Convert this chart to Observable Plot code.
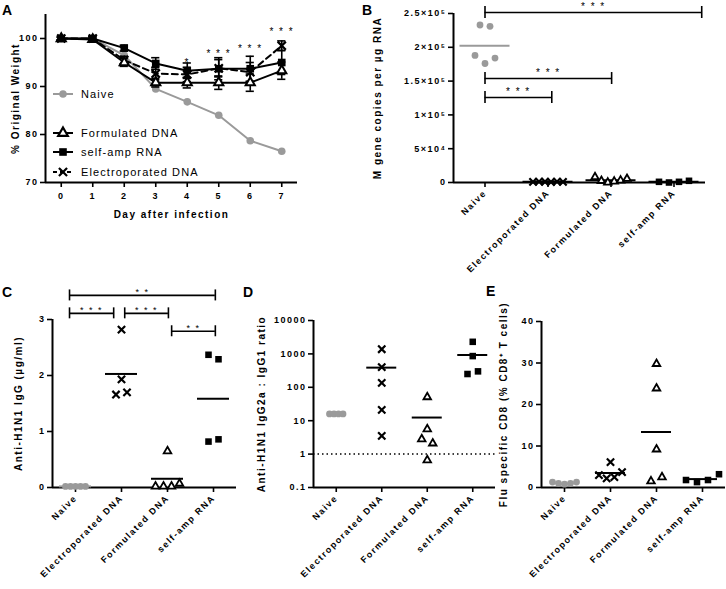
<!DOCTYPE html>
<html><head><meta charset="utf-8">
<script src="https://cdn.jsdelivr.net/npm/d3@7"></script>
<script src="https://cdn.jsdelivr.net/npm/@observablehq/plot@0.6"></script>
<style>
body{margin:0;background:#fff;}
#fig{position:relative;width:726px;height:589px;overflow:hidden;background:#fff;}
#fig > svg{position:absolute;left:0;top:0;}
</style></head><body><div id="fig"></div>
<script>
// ---------- DATA ----------
const groups = ["Naive", "Electroporated DNA", "Formulated DNA", "self-amp RNA"];

// Panel A: weight curves
const days = [0, 1, 2, 3, 4, 5, 6, 7];
const weightNaive = [100, 100, 96.5, 89.5, 86.8, 84, 78.7, 76.5];
const weightFormulated = [100, 99.8, 95, 90.8, 90.8, 90.8, 90.8, 93.3];
const weightSelfAmp = [100, 100, 98, 94.8, 93.3, 93.7, 93.7, 95];
const weightElectro = [100, 100, 95.5, 92.7, 92.5, 93.8, 93, 98.5];
const errFormulated = [0.3, 0.5, 0.8, 0.9, 1.1, 1.4, 1.8, 1.8];
const errSelfAmp = [0.3, 0.4, 0.6, 1.2, 1.6, 2.3, 2.6, 2.5];
const errElectro = [0.3, 0.4, 0.8, 1.3, 1.5, 1.8, 2.0, 1.0];
const starDaysA = [4, 5, 6, 7];
const starYA = [95.0, 96.9, 97.9, 101.5];
const starLabelsA = ["*", "***", "***", "***"];

// Panel B: M gene copies per µg RNA
const bNaive = [233000, 231000, 188000, 176000, 184000];
const bElectro = [900, 1300, 1100, 800, 1200, 1000];
const bFormulated = [8000, 2500, 0, 1500, 3000, 5500];
const bSelfAmp = [1000, 0, 1000, 2500];
const bTicks = [0, 50000, 100000, 150000, 200000, 250000];
const bTickLabels = ["0", "5×10⁴", "1×10⁵", "1.5×10⁵", "2×10⁵", "2.5×10⁵"];
const bBracketFrom = [0, 0, 0];
const bBracketTo = [3.44, 2.01, 1.06];
const bBracketY = [251500, 153800, 125700];
const bBracketLabel = ["***", "***", "***"];

// Panel C: Anti-H1N1 IgG (µg/ml)
const cNaive = [0.02, 0.02, 0.02, 0.02, 0.02];
const cElectro = [2.82, 1.93, 1.66, 1.70];
const cFormulated = [0.65, 0.02, 0.02, 0.02, 0.07];
const cSelfAmp = [2.37, 2.29, 0.82, 0.86];
const cTicks = [0, 1, 2, 3];
const cBracketFrom = [-0.13, -0.13, 1.07, 2.09];
const cBracketTo = [3.04, 0.83, 2.02, 3.04];
const cBracketY = [3.43, 3.11, 3.11, 2.79];
const cBracketLabel = ["**", "***", "***", "**"];

// Panel D: IgG2a : IgG1 ratio
const dNaive = [16, 16, 16, 16];
const dElectro = [1380, 400, 135, 21, 3.5];
const dFormulated = [51, 5.6, 2.8, 2.1, 0.66];
const dSelfAmp = [2300, 860, 250, 300];
const dTicks = [0.1, 1, 10, 100, 1000, 10000];
const dTickLabels = ["0.1", "1", "10", "100", "1000", "10000"];
const dReference = [1];

// Panel E: Flu specific CD8
const eNaive = [1.3, 1.0, 0.8, 1.0, 1.3];
const eElectro = [6.1, 3.0, 2.2, 2.5, 3.7];
const eFormulated = [29.8, 23.9, 9.2, 1.5, 2.5];
const eSelfAmp = [1.8, 1.3, 1.8, 3.2];
const eTicks = [0, 10, 20, 30, 40];

// ---------- STYLE ----------
const W = 726, H = 589;
const FONT = '"Liberation Sans", Arial, Helvetica, sans-serif';
const GRAY = "#9a9a9a";
const svgStyle = `font-family:${FONT};font-size:9px;font-weight:bold;letter-spacing:1.5px;background:transparent;overflow:visible;max-width:none;`;
const fig = document.getElementById("fig");
const spaced = s => s.split("").join(" ");

const groupStyle = [
  {symbol: "circle", fill: GRAY, stroke: "none", r: 3.4},
  {symbol: "times", fill: "none", stroke: "black", strokeWidth: 2.2, r: 3.4},
  {symbol: "triangle", fill: "white", stroke: "black", strokeWidth: 1.8, r: 2.8},
  {symbol: "square", fill: "black", stroke: "none", r: 3.7}
];

// ---------- PANEL A ----------
{
  const ml = 45, mr = W - 297, mt = 14, mb = H - 182;
  const mk = (w, e) => days.map((d, i) => ({day: d, w: w[i], e: e ? e[i] : 0}));
  const naive = mk(weightNaive), form = mk(weightFormulated, errFormulated),
        self = mk(weightSelfAmp, errSelfAmp), elec = mk(weightElectro, errElectro);
  const errMarks = rows => [
    Plot.ruleX(rows, {x: "day", y1: d => d.w - d.e, y2: d => d.w + d.e, strokeWidth: 1.6}),
    Plot.ruleY(rows, {y: d => d.w + d.e, x1: d => d.day - 0.13, x2: d => d.day + 0.13, strokeWidth: 1.6}),
    Plot.ruleY(rows, {y: d => d.w - d.e, x1: d => d.day - 0.13, x2: d => d.day + 0.13, strokeWidth: 1.6})
  ];
  const stars = starDaysA.map((d, i) => ({day: d, y: starYA[i], label: starLabelsA[i]}));
  const p = Plot.plot({
    width: W, height: H, marginLeft: ml, marginRight: mr, marginTop: mt, marginBottom: mb,
    x: {domain: [-0.5, 7.5]}, y: {domain: [70, 105]},
    style: svgStyle,
    marks: [
      Plot.axisY({ticks: [70, 80, 90, 100], tickSize: 5, tickPadding: 2, strokeWidth: 1.6, label: null}),
      Plot.axisX({ticks: days, tickSize: 5, tickPadding: 5, strokeWidth: 1.6, label: null}),
      Plot.ruleX([-0.5], {strokeWidth: 2}),
      Plot.ruleY([70], {strokeWidth: 2}),
      Plot.text(["% Original Weight"], {frameAnchor: "left", textAnchor: "middle", dx: -30, rotate: -90, fontSize: 10, fontWeight: "bold"}),
      Plot.text(["Day after infection"], {frameAnchor: "bottom", textAnchor: "middle", dy: 35, fontSize: 10, fontWeight: "bold"}),
      Plot.line(naive, {x: "day", y: "w", stroke: GRAY, strokeWidth: 2}),
      Plot.dot(naive, {x: "day", y: "w", fill: GRAY, r: 3.8}),
      ...errMarks(elec),
      Plot.line(elec, {x: "day", y: "w", stroke: "black", strokeWidth: 2, strokeDasharray: "6,4"}),
      ...errMarks(form),
      Plot.line(form, {x: "day", y: "w", stroke: "black", strokeWidth: 2}),
      ...errMarks(self),
      Plot.line(self, {x: "day", y: "w", stroke: "black", strokeWidth: 2}),
      Plot.dot(elec, {x: "day", y: "w", symbol: "times", stroke: "black", strokeWidth: 2.2, r: 3.8}),
      Plot.dot(form, {x: "day", y: "w", symbol: "triangle", fill: "white", stroke: "black", strokeWidth: 2, r: 3.4}),
      Plot.dot(self, {x: "day", y: "w", symbol: "square", fill: "black", r: 4.3}),
      Plot.text(stars, {x: "day", y: "y", text: d => spaced(d.label), fontSize: 10, fontWeight: "normal", fill: "black"})
    ]
  });
  fig.appendChild(p);
}

// ---------- scatter panel helper ----------
function dodge(values, yPix, spread, thresh = 7) {
  const idx = values.map((v, i) => i).sort((a, b) => yPix(values[a]) - yPix(values[b]));
  const rows = []; let cur = [idx[0]];
  for (let k = 1; k < idx.length; k++) {
    if (Math.abs(yPix(values[idx[k]]) - yPix(values[idx[k - 1]])) < thresh) cur.push(idx[k]);
    else { rows.push(cur); cur = [idx[k]]; }
  }
  rows.push(cur);
  const off = new Array(values.length).fill(0);
  rows.forEach(r => { r.sort((a, b) => a - b); r.forEach((i, j) => off[i] = (j - (r.length - 1) / 2) * spread); });
  return off;
}

function scatterPanel(o) {
  const {series, yType = "linear", yDomain, yTicks, yTickFormat, ml, mr, mt, mb, spread,
         meanHalf = 15, meanSkip = [], brackets = [], capPx = 6, starDy = -7, starSize = 10,
         yTitle, titleDx, extra = []} = o;
  const top = mt, bottom = H - mb;
  const yPix = (yType === "log" ? d3.scaleLog() : d3.scaleLinear()).domain(yDomain).range([bottom, top]);
  const step = (W - ml - mr) / 4;
  const marks = [
    Plot.axisY({ticks: yTicks, tickFormat: yTickFormat, tickSize: 5, tickPadding: 2, strokeWidth: 1.6, label: null}),
    Plot.axisX({ticks: [0, 1, 2, 3], tickFormat: i => groups[i], tickRotate: -45, tickSize: 5, tickPadding: 4, strokeWidth: 1.6, label: null}),
    Plot.ruleX([-0.5], {strokeWidth: 2}),
    Plot.ruleY([yDomain[0]], {strokeWidth: 2}),
    Plot.text([yTitle], {frameAnchor: "left", textAnchor: "middle", dx: titleDx, rotate: -90, fontSize: 10, fontWeight: "bold"}),
    ...extra
  ];
  // brackets
  if (brackets.length) {
    const caps = brackets.flatMap(b => [b.x1, b.x2].map(x => ({x, y1: yPix.invert(yPix(b.y) + capPx), y2: yPix.invert(yPix(b.y) - capPx)})));
    marks.push(Plot.ruleY(brackets, {y: "y", x1: "x1", x2: "x2", strokeWidth: 1.6}));
    marks.push(Plot.ruleX(caps, {x: "x", y1: "y1", y2: "y2", strokeWidth: 1.6}));
    marks.push(Plot.text(brackets, {x: d => (d.x1 + d.x2) / 2, y: "y", text: d => spaced(d.label), dy: starDy, fontSize: starSize, fontWeight: "normal", fill: "black"}));
  }
  // mean lines
  series.forEach((vals, gi) => {
    if (meanSkip.includes(gi)) return;
    const m = d3.mean(vals);
    marks.push(Plot.ruleY([{gi, m}], {y: "m", x1: d => d.gi - meanHalf / step, x2: d => d.gi + meanHalf / step,
      stroke: gi === 0 ? GRAY : "black", strokeWidth: 2}));
  });
  // points
  series.forEach((vals, gi) => {
    const off = dodge(vals, yPix, spread[gi]);
    const rows = vals.map((v, i) => ({x: gi + off[i] / step, y: v}));
    const s = groupStyle[gi];
    marks.push(Plot.dot(rows, {x: "x", y: "y", symbol: s.symbol, fill: s.fill, stroke: s.stroke, strokeWidth: s.strokeWidth, r: s.r}));
  });
  const p = Plot.plot({
    width: W, height: H, marginLeft: ml, marginRight: mr, marginTop: mt, marginBottom: mb,
    x: {domain: [-0.5, 3.5]},
    y: {type: yType, domain: yDomain},
    style: svgStyle,
    marks
  });
  fig.appendChild(p);
}

const mkBrackets = (from, to, ys, labels) => from.map((f, i) => ({x1: f, x2: to[i], y: ys[i], label: labels[i]}));

// ---------- PANEL B ----------
scatterPanel({
  series: [bNaive, bElectro, bFormulated, bSelfAmp],
  yDomain: [0, 250000], yTicks: bTicks, yTickFormat: d => bTickLabels[bTicks.indexOf(d)],
  ml: 453, mr: W - 705, mt: 13, mb: H - 182,
  spread: [10, 6, 6.4, 10], meanHalf: 25,
  brackets: mkBrackets(bBracketFrom, bBracketTo, bBracketY, bBracketLabel), capPx: 6, starDy: -6, starSize: 10,
  yTitle: "M gene copies per µg RNA", titleDx: -76
});

// ---------- PANEL C ----------
scatterPanel({
  series: [cNaive, cElectro, cFormulated, cSelfAmp],
  yDomain: [0, 3], yTicks: cTicks, yTickFormat: d => String(d),
  ml: 52, mr: W - 236, mt: 319, mb: H - 487,
  spread: [5, 11, 8, 10], meanHalf: 16,
  brackets: mkBrackets(cBracketFrom, cBracketTo, cBracketY, cBracketLabel), capPx: 5.5, starDy: -3, starSize: 9,
  yTitle: "Anti-H1N1 IgG (µg/ml)", titleDx: -34
});

// ---------- PANEL D ----------
scatterPanel({
  series: [dNaive, dElectro, dFormulated, dSelfAmp],
  yType: "log", yDomain: [0.1, 10000], yTicks: dTicks, yTickFormat: d => dTickLabels[dTicks.indexOf(d)],
  ml: 313, mr: W - 495, mt: 320, mb: H - 487,
  spread: [4.5, 8, 11, 10.5], meanHalf: 15, meanSkip: [0],
  yTitle: "Anti-H1N1 IgG2a : IgG1 ratio", titleDx: -52,
  extra: [Plot.ruleY(dReference, {strokeDasharray: "1.5,3", strokeWidth: 1.5})]
});

// ---------- PANEL E ----------
scatterPanel({
  series: [eNaive, eElectro, eFormulated, eSelfAmp],
  yDomain: [0, 40], yTicks: eTicks, yTickFormat: d => String(d),
  ml: 541, mr: W - 725, mt: 321, mb: H - 487,
  spread: [6, 7.7, 11, 11], meanHalf: 15, meanSkip: [0],
  yTitle: "Flu specific CD8 (% CD8⁺ T cells)", titleDx: -38
});

// ---------- overlay: panel letters + legend of A ----------
{
  const svg = d3.select(fig).append("svg").attr("width", W).attr("height", H)
    .style("font-family", FONT);
  const letters = [["A", 2, 15], ["B", 362, 15], ["C", 2, 297], ["D", 243, 297], ["E", 486, 296]];
  svg.selectAll("text.l").data(letters).join("text").attr("class", "l")
    .attr("x", d => d[1]).attr("y", d => d[2]).text(d => d[0])
    .attr("font-size", 14).attr("font-weight", "bold");
  const legend = [
    {label: "Naive", y: 94, sym: d3.symbolCircle, fill: GRAY, stroke: "none", line: GRAY, dash: null, size: 45},
    {label: "Formulated DNA", y: 133, sym: d3.symbolTriangle, fill: "white", stroke: "black", line: "black", dash: null, size: 40},
    {label: "self-amp RNA", y: 152, sym: d3.symbolSquare, fill: "black", stroke: "none", line: "black", dash: null, size: 58},
    {label: "Electroporated DNA", y: 172, sym: d3.symbolTimes, fill: "none", stroke: "black", line: "black", dash: "4,3", size: 45}
  ];
  const g = svg.selectAll("g.leg").data(legend).join("g").attr("transform", d => `translate(0,${d.y})`);
  g.append("line").attr("x1", 53).attr("x2", 73).attr("stroke", d => d.line).attr("stroke-width", 2)
    .attr("stroke-dasharray", d => d.dash);
  g.append("path").attr("transform", "translate(63,0)").attr("d", d => d3.symbol(d.sym, d.size)())
    .attr("fill", d => d.fill).attr("stroke", d => d.stroke).attr("stroke-width", 2.2);
  g.append("text").attr("x", 81).attr("dy", "0.36em").text(d => d.label)
    .attr("font-size", 11).attr("letter-spacing", "1.1px");
}
</script>
</body></html>
